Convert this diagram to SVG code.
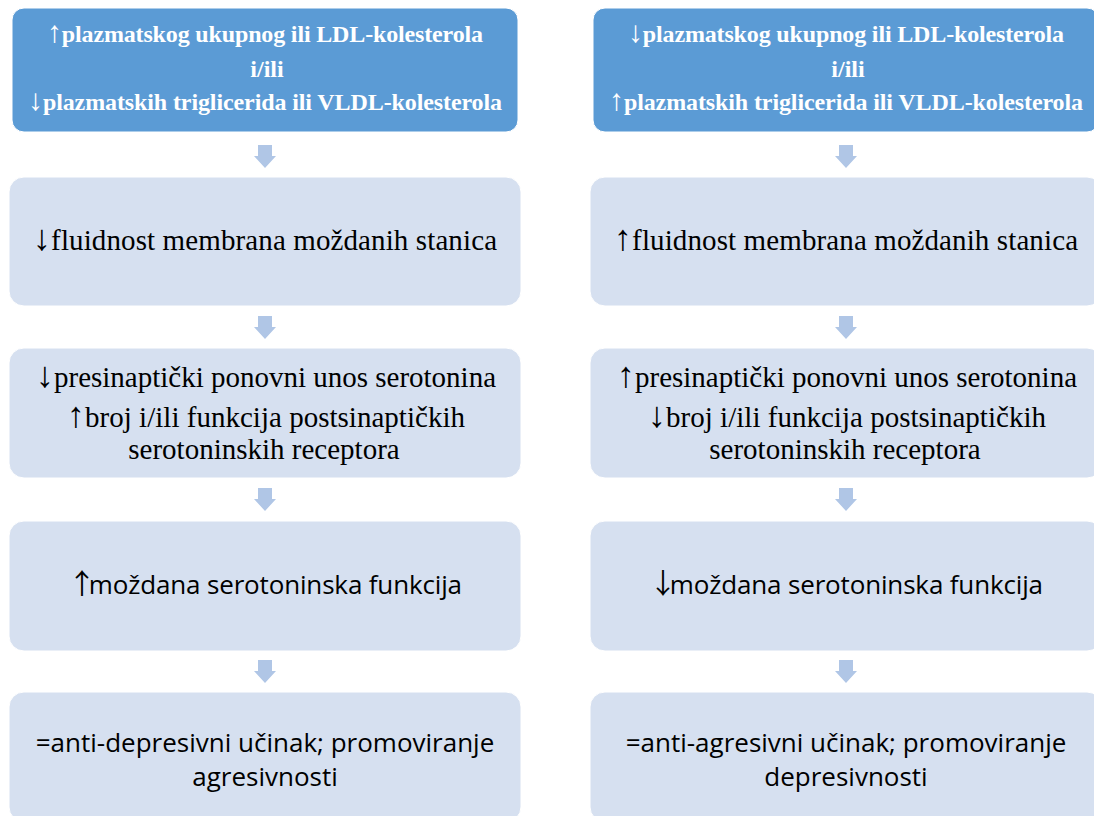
<svg xmlns="http://www.w3.org/2000/svg" width="1094" height="816" viewBox="0 0 1094 816">
<style>
.top{fill:#5B9BD5;stroke:#FFFFFF;stroke-width:1}
.box{fill:#D6E0F0;stroke:#FFFFFF;stroke-width:1}
.arr{fill:#B0C6E6}
.tb{font-family:'Liberation Serif',Tinos,'Times New Roman','DejaVu Serif',serif;font-weight:bold;font-size:24px;fill:#FFFFFF;text-anchor:middle}
.sr{font-family:'Liberation Serif',Tinos,'Times New Roman','DejaVu Serif',serif;font-size:29px;fill:#000000;text-anchor:middle}
.ss{font-family:'Open Sans','Noto Sans','Liberation Sans',sans-serif;font-size:26px;fill:#000000;text-anchor:middle}
.ab{font-size:30px;font-weight:normal}
.as{font-size:36px}
.ac{font-family:'Noto Sans CJK SC','Noto Sans CJK JP',sans-serif;font-size:28px;letter-spacing:-7px}
</style>
<rect width="1094" height="816" fill="#FFFFFF"/>
<g id="connectors">
<path class="arr" d="M258,145H272V156H276L265,168L254,156H258Z"/>
<path class="arr" d="M258,316H272V327H276L265,339L254,327H258Z"/>
<path class="arr" d="M258,488H272V499H276L265,511L254,499H258Z"/>
<path class="arr" d="M258,660H272V671H276L265,683L254,671H258Z"/>
<path class="arr" d="M839,145H853V156H857L846,168L835,156H839Z"/>
<path class="arr" d="M839,316H853V327H857L846,339L835,327H839Z"/>
<path class="arr" d="M839,488H853V499H857L846,511L835,499H839Z"/>
<path class="arr" d="M839,660H853V671H857L846,683L835,671H839Z"/>
</g>
<g id="L1">
<rect class="top" x="12" y="8" width="506" height="124" rx="12"/>
<text class="tb" x="265" y="42" textLength="436" lengthAdjust="spacing"><tspan class="ab">↑</tspan>plazmatskog ukupnog ili LDL-kolesterola</text>
<text class="tb" x="267" y="77">i/ili</text>
<text class="tb" x="265" y="110" textLength="474" lengthAdjust="spacing"><tspan class="ab">↓</tspan>plazmatskih triglicerida ili VLDL-kolesterola</text>
</g>
<g id="L2">
<rect class="box" x="9" y="177" width="512" height="129" rx="15"/>
<text class="sr" x="265" y="250" textLength="464" lengthAdjust="spacing"><tspan class="as">↓</tspan>fluidnost membrana moždanih stanica</text>
</g>
<g id="L3">
<rect class="box" x="9" y="348" width="512" height="130" rx="15"/>
<text class="sr" x="266" y="387" textLength="460" lengthAdjust="spacing"><tspan class="as">↓</tspan>presinaptički ponovni unos serotonina</text>
<text class="sr" x="266" y="427" textLength="398" lengthAdjust="spacing"><tspan class="as">↑</tspan>broj i/ili funkcija postsinaptičkih</text>
<text class="sr" x="264" y="459">serotoninskih receptora</text>
</g>
<g id="L4">
<rect class="box" x="9" y="521" width="512" height="130" rx="15"/>
<text class="ss" x="265" y="594" textLength="394" lengthAdjust="spacing"><tspan class="ac">↑</tspan>moždana serotoninska funkcija</text>
</g>
<g id="L5">
<rect class="box" x="9" y="692" width="512" height="130" rx="15"/>
<text class="ss" x="265" y="752">=anti-depresivni učinak; promoviranje</text>
<text class="ss" x="265" y="786">agresivnosti</text>
</g>
<g id="R1">
<rect class="top" x="593" y="8" width="506" height="124" rx="12"/>
<text class="tb" x="846" y="42" textLength="436" lengthAdjust="spacing"><tspan class="ab">↓</tspan>plazmatskog ukupnog ili LDL-kolesterola</text>
<text class="tb" x="848" y="77">i/ili</text>
<text class="tb" x="846" y="110" textLength="474" lengthAdjust="spacing"><tspan class="ab">↑</tspan>plazmatskih triglicerida ili VLDL-kolesterola</text>
</g>
<g id="R2">
<rect class="box" x="590" y="177" width="512" height="129" rx="15"/>
<text class="sr" x="846" y="250" textLength="464" lengthAdjust="spacing"><tspan class="as">↑</tspan>fluidnost membrana moždanih stanica</text>
</g>
<g id="R3">
<rect class="box" x="590" y="348" width="512" height="130" rx="15"/>
<text class="sr" x="847" y="387" textLength="460" lengthAdjust="spacing"><tspan class="as">↑</tspan>presinaptički ponovni unos serotonina</text>
<text class="sr" x="847" y="427" textLength="398" lengthAdjust="spacing"><tspan class="as">↓</tspan>broj i/ili funkcija postsinaptičkih</text>
<text class="sr" x="845" y="459">serotoninskih receptora</text>
</g>
<g id="R4">
<rect class="box" x="590" y="521" width="512" height="130" rx="15"/>
<text class="ss" x="846" y="594" textLength="394" lengthAdjust="spacing"><tspan class="ac">↓</tspan>moždana serotoninska funkcija</text>
</g>
<g id="R5">
<rect class="box" x="590" y="692" width="512" height="130" rx="15"/>
<text class="ss" x="846" y="752">=anti-agresivni učinak; promoviranje</text>
<text class="ss" x="846" y="786">depresivnosti</text>
</g>
</svg>
